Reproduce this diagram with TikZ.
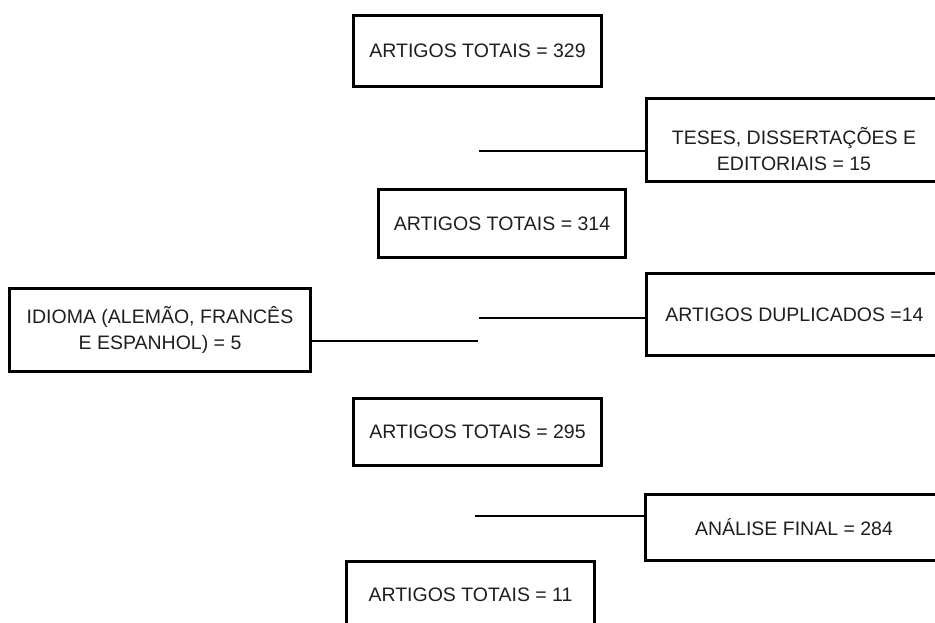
\documentclass[tikz,border=0pt]{standalone}
\usepackage{fontspec}
\setmainfont{Liberation Sans}
\begin{document}
\begin{tikzpicture}[x=1pt,y=-1pt,
  box/.style={draw=black, line width=3pt, fill=white, inner sep=0pt, align=center,
    text=black!88, font=\fontsize{19.5}{25.5}\selectfont},
  txt/.style={inner sep=0pt, align=center, text=black!88, font=\fontsize{19.5}{25.5}\selectfont},
  conn/.style={draw=black, line width=1.5pt}]
\useasboundingbox (0,0) rectangle (935,623);
\clip (0,0) rectangle (935,623);
% boxes
\node[box, minimum width=248, minimum height=71] (b1) at (477.5,51) {ARTIGOS TOTAIS = 329};
\node[box, minimum width=296, minimum height=83] (b2) at (794.5,140) {};
\node[txt] (t2) at (794,149) {TESES, DISSERTAÇÕES E\\EDITORIAIS = 15};
\node[box, minimum width=247, minimum height=68] (b3) at (502,223.5) {ARTIGOS TOTAIS = 314};
\node[box, minimum width=301, minimum height=83] (b4) at (160,330) {IDIOMA (ALEMÃO, FRANCÊS\\E ESPANHOL) = 5};
\node[box, minimum width=296, minimum height=82] (b5) at (794.5,314.5) {ARTIGOS DUPLICADOS =14};
\node[box, minimum width=248, minimum height=67] (b6) at (477.5,432) {ARTIGOS TOTAIS = 295};
\node[box, minimum width=297, minimum height=66] (b7) at (794,527.5) {ANÁLISE FINAL = 284};
\node[box, minimum width=248, minimum height=67] (b8) at (470.5,595) {ARTIGOS TOTAIS = 11};
% connector free ends
\coordinate (c1) at (479,151);
\coordinate (c2) at (479,318);
\coordinate (c3) at (478,341);
\coordinate (c4) at (475,516);
\draw[conn] (c1) -- (c1 -| b2.west);
\draw[conn] (c2) -- (c2 -| b5.west);
\draw[conn] (c3 -| b4.east) -- (c3);
\draw[conn] (c4) -- (c4 -| b7.west);
\end{tikzpicture}
\end{document}
